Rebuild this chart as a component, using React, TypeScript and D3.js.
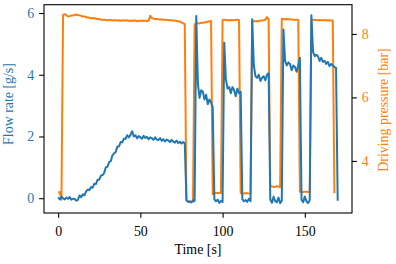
import React, { useEffect, useRef } from 'react';
import * as d3 from 'd3';

// Flow rate [g/s], one sample per second from t = 0 s
const flowRate = [
  0.03, -0.04, 0.05, 0.0, -0.04, 0.02, -0.02, 0.04, -0.05, -0.02,
  -0.02, -0.08, -0.06, 0.09, 0.03, 0.13, 0.09, 0.22, 0.28, 0.26,
  0.36, 0.34, 0.47, 0.46, 0.6, 0.6, 0.73, 0.75, 0.82, 1.0,
  1.02, 1.17, 1.2, 1.39, 1.45, 1.5, 1.67, 1.68, 1.82, 1.81,
  1.93, 1.92, 2.04, 1.97, 2.05, 2.17, 2.0, 2.04, 1.94, 2.01,
  1.97, 1.93, 2.02, 1.95, 1.99, 1.91, 1.97, 1.94, 1.89, 1.97,
  1.9, 1.88, 1.95, 1.86, 1.91, 1.84, 1.9, 1.87, 1.82, 1.89,
  1.83, 1.8, 1.87, 1.79, 1.83, 1.77, 1.82, 1.78, -0.05, -0.12,
  -0.1, -0.14, -0.07, -0.09, 5.9, 3.7, 3.25, 3.5, 3.45, 3.2,
  3.35, 3.05, 3.2, 3.1, 2.95, -0.04, -0.1, -0.05, -0.15, -0.09,
  -0.12, 5.04, 3.85, 3.55, 3.6, 3.4, 3.6, 3.5, 3.3, 3.55,
  3.4, 3.45, -0.03, -0.1, -0.06, -0.12, -0.02, -0.1, 5.8, 4.3,
  3.95, 3.9, 4.0, 3.8, 3.9, 3.95, 3.82, 4.0, 4.05, -0.04,
  -0.15, 0.05, -0.1, -0.13, 0.02, -0.16, -0.08, 5.47, 4.45, 4.3,
  4.4, 4.35, 4.15, 4.3, 4.25, 4.1, 4.3, 4.55, -0.05, -0.13,
  0.05, -0.1, -0.16, -0.06, 5.93, 4.75, 4.6, 4.65, 4.6, 4.45,
  4.55, 4.42, 4.45, 4.35, 4.42, 4.28, 4.35, 4.3, 4.25, 4.22,
  -0.08,
];

// Driving pressure [bar], one sample per second from t = 0 s
const drivingPressure = [
  3.0, 3.02, 2.78, 8.6, 8.62, 8.59, 8.55, 8.56, 8.58, 8.58,
  8.6, 8.61, 8.59, 8.59, 8.57, 8.55, 8.55, 8.53, 8.52, 8.51,
  8.49, 8.5, 8.49, 8.48, 8.47, 8.47, 8.45, 8.44, 8.45, 8.44,
  8.43, 8.44, 8.44, 8.42, 8.43, 8.43, 8.42, 8.43, 8.41, 8.43,
  8.42, 8.42, 8.43, 8.41, 8.42, 8.41, 8.42, 8.42, 8.4, 8.42,
  8.41, 8.42, 8.41, 8.42, 8.4, 8.42, 8.57, 8.5, 8.48, 8.47,
  8.47, 8.46, 8.45, 8.46, 8.44, 8.45, 8.44, 8.44, 8.43, 8.43,
  8.42, 8.42, 8.41, 8.4, 8.39, 8.36, 8.34, 8.3, 2.75, 2.72,
  2.7, 2.72, 2.71, 8.3, 8.33, 8.34, 8.33, 8.35, 8.35, 8.36,
  8.37, 8.38, 8.4, 8.41, 2.95, 2.98, 3.0, 2.98, 3.0, 2.99,
  8.44, 8.45, 8.44, 8.43, 8.43, 8.44, 8.43, 8.44, 8.44, 8.45,
  8.44, 2.98, 2.98, 2.97, 2.99, 2.98, 2.97, 2.98, 8.38, 8.4,
  8.4, 8.41, 8.4, 8.42, 8.42, 8.43, 8.45, 8.53, 8.45, 3.19,
  3.2, 3.18, 3.19, 3.2, 3.19, 3.18, 8.47, 8.47, 8.46, 8.47,
  8.46, 8.46, 8.45, 8.45, 8.44, 8.45, 8.44, 3.03, 3.04, 3.02,
  3.03, 3.03, 3.02, 3.03, 8.44, 8.45, 8.44, 8.44, 8.43, 8.44,
  8.43, 8.43, 8.44, 8.43, 8.42, 8.43, 8.42, 8.42, 2.98,
];

const timeTicks = [0, 50, 100, 150];
const flowTicks = [0, 2, 4, 6];
const pressureTicks = [4, 6, 8];

const BLUE = '#1f77b4';
const ORANGE = '#ff7f0e';
const FONT = '"Liberation Serif", "Times New Roman", serif';
const FONT_SIZE = 13.9;

const App = () => {
  const chartRef = useRef(null);

  useEffect(() => {
    // plot box in pixels
    const left = 44, right = 352, top = 4.7, bottom = 213;
    const tickLen = 4.86;

    const svg = d3.select(chartRef.current);
    svg.selectAll('*').remove();

    const x = d3.scaleLinear().domain([-8.6, 178.7]).range([left, right]);
    const yFlow = d3.scaleLinear().domain([-0.48, 6.27]).range([bottom, top]);
    const yPressure = d3.scaleLinear().domain([2.36, 8.92]).range([bottom, top]);

    // pressure first, flow drawn on top of it
    const pressureLine = d3.line<number>()
      .x((_, i) => x(i))
      .y(d => yPressure(d));
    const flowLine = d3.line<number>()
      .x((_, i) => x(i))
      .y(d => yFlow(d));

    svg.append('path')
      .attr('d', pressureLine(drivingPressure))
      .attr('fill', 'none')
      .attr('stroke', ORANGE)
      .attr('stroke-width', 2)
      .attr('stroke-linejoin', 'round');

    svg.append('path')
      .attr('d', flowLine(flowRate))
      .attr('fill', 'none')
      .attr('stroke', BLUE)
      .attr('stroke-width', 2)
      .attr('stroke-linejoin', 'round');

    // axes: ticks from d3, spines drawn as a rect
    const styleAxis = (g, color) => {
      g.attr('font-family', FONT).attr('font-size', FONT_SIZE);
      g.select('.domain').remove();
      g.selectAll('line').attr('stroke', '#000').attr('stroke-width', 1.1);
      g.selectAll('text')
        .attr('fill', color)
        .attr('font-family', FONT)
        .attr('font-size', FONT_SIZE);
    };

    const fmt = d3.format('d');

    const xAxis = svg.append('g')
      .attr('transform', `translate(0,${bottom})`)
      .call(d3.axisBottom(x).tickValues(timeTicks).tickFormat(fmt).tickSize(tickLen).tickPadding(tickLen));
    styleAxis(xAxis, '#000');
    xAxis.selectAll('text').attr('dy', '0.96em');

    const leftAxis = svg.append('g')
      .attr('transform', `translate(${left},0)`)
      .call(d3.axisLeft(yFlow).tickValues(flowTicks).tickFormat(fmt).tickSize(tickLen).tickPadding(tickLen));
    styleAxis(leftAxis, BLUE);

    const rightAxis = svg.append('g')
      .attr('transform', `translate(${right},0)`)
      .call(d3.axisRight(yPressure).tickValues(pressureTicks).tickFormat(fmt).tickSize(tickLen).tickPadding(tickLen));
    styleAxis(rightAxis, ORANGE);

    svg.append('rect')
      .attr('x', left)
      .attr('y', top)
      .attr('width', right - left)
      .attr('height', bottom - top)
      .attr('fill', 'none')
      .attr('stroke', '#000')
      .attr('stroke-width', 1.1);

    // axis titles
    svg.append('text')
      .attr('x', (left + right) / 2)
      .attr('y', 254)
      .attr('text-anchor', 'middle')
      .attr('font-family', FONT)
      .attr('font-size', FONT_SIZE)
      .attr('fill', '#000')
      .text('Time [s]');

    svg.append('text')
      .attr('transform', 'translate(13.4,104) rotate(-90)')
      .attr('text-anchor', 'middle')
      .attr('font-family', FONT)
      .attr('font-size', FONT_SIZE)
      .attr('fill', BLUE)
      .text('Flow rate [g/s]');

    svg.append('text')
      .attr('transform', 'translate(388.3,110) rotate(-90)')
      .attr('text-anchor', 'middle')
      .attr('font-family', FONT)
      .attr('font-size', FONT_SIZE)
      .attr('fill', ORANGE)
      .text('Driving pressure [bar]');
  }, []);

  return (
    <svg
      ref={chartRef}
      width={396}
      height={264}
      style={{ position: 'absolute', left: 0, top: 0, background: '#fff' }}
    ></svg>
  );
};

export default App;
